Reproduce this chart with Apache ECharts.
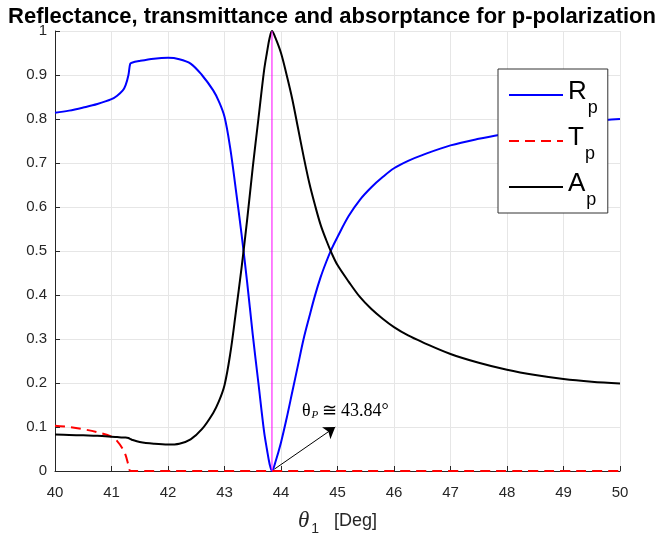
<!DOCTYPE html>
<html>
<head>
<meta charset="utf-8">
<script src="https://cdn.jsdelivr.net/npm/echarts@6/dist/echarts.min.js"></script>
<style>
  html, body { margin: 0; padding: 0; background: #fff; }
  #chart { width: 664px; height: 535px; }
</style>
</head>
<body>
<div id="chart"></div>
<script>
// incidence angle (deg)
const theta = [40, 40.25, 40.5, 40.75, 41, 41.1, 41.2, 41.25, 41.3, 41.33, 41.36, 41.5, 41.75, 42,
  42.2, 42.4, 42.6, 42.8, 42.9, 43, 43.1, 43.2, 43.3, 43.4, 43.5, 43.6, 43.7, 43.75, 43.8, 43.84,
  43.9, 44, 44.1, 44.2, 44.3, 44.4, 44.5, 44.6, 44.7, 44.8, 44.9, 45, 45.2, 45.4, 45.6, 45.8, 46,
  46.25, 46.5, 47, 47.5, 48, 48.5, 49, 49.5, 50];
// reflectance
const Rp = [0.814, 0.819, 0.826, 0.834, 0.845, 0.853, 0.865, 0.877, 0.900, 0.925, 0.928, 0.932, 0.937, 0.939,
  0.936, 0.926, 0.900, 0.865, 0.840, 0.805, 0.735, 0.640, 0.540, 0.430, 0.310, 0.200, 0.090, 0.050, 0.015, 0,
  0.020, 0.065, 0.120, 0.180, 0.240, 0.300, 0.350, 0.398, 0.440, 0.475, 0.506, 0.532, 0.580, 0.617, 0.645, 0.668, 0.688,
  0.705, 0.718, 0.740, 0.755, 0.767, 0.778, 0.788, 0.795, 0.800];
// transmittance
const Tp = [0.103, 0.100, 0.095, 0.088, 0.078, 0.068, 0.050, 0.036, 0.013, 0, 0, 0, 0, 0,
  0, 0, 0, 0, 0, 0, 0, 0, 0, 0, 0, 0, 0, 0, 0, 0,
  0, 0, 0, 0, 0, 0, 0, 0, 0, 0, 0, 0, 0, 0, 0, 0, 0,
  0, 0, 0, 0, 0, 0, 0, 0, 0];
// absorptance
const Ap = [0.083, 0.082, 0.081, 0.080, 0.078, 0.077, 0.076, 0.076, 0.075, 0.073, 0.071, 0.066, 0.062, 0.060,
  0.062, 0.072, 0.095, 0.132, 0.158, 0.195, 0.265, 0.360, 0.460, 0.570, 0.690, 0.800, 0.910, 0.950, 0.985, 1.000,
  0.985, 0.950, 0.900, 0.845, 0.780, 0.715, 0.655, 0.605, 0.560, 0.525, 0.494, 0.468, 0.430, 0.395, 0.368, 0.346, 0.327,
  0.308, 0.293, 0.266, 0.246, 0.230, 0.218, 0.209, 0.203, 0.199];

const seriesNames = ['Rp', 'Tp', 'Ap'];
const brewster = 43.84;
const arrowStart = [43.88, 0.004];
const arrowEnd = [44.96, 0.1];
const labelAt = [44.37, 0.135];

const sans = 'Liberation Sans, Arial, sans-serif';
const serif = 'Liberation Serif, Times New Roman, serif';
const axisColor = '#262626';

function pairs(ys) {
  return theta.map((t, i) => [t, ys[i]]);
}

const chart = echarts.init(document.getElementById('chart'));
chart.setOption({
  animation: false,
  backgroundColor: '#fff',
  title: {
    text: 'Reflectance, transmittance and absorptance for p-polarization',
    left: 'center',
    top: 1,
    textStyle: { fontFamily: sans, fontSize: 22, fontWeight: 'bold', color: '#000' }
  },
  grid: { left: 55, right: 44, top: 31, bottom: 64, outerBoundsMode: 'none' },
  legend: {
    data: seriesNames,
    orient: 'vertical',
    left: 498,
    top: 69,
    padding: [4, 10, 4, 10],
    itemGap: 2,
    itemWidth: 54,
    itemHeight: 14,
    backgroundColor: '#fff',
    borderColor: '#333',
    borderWidth: 1,
    selectedMode: false,
    itemStyle: { opacity: 0 },
    formatter: name => '{b|' + name[0] + '}{s|' + name.slice(1) + '}',
    textStyle: {
      color: '#000',
      rich: {
        b: { fontFamily: sans, fontSize: 26, lineHeight: 30, padding: [0, 0, 6, 0], color: '#000' },
        s: { fontFamily: sans, fontSize: 18, lineHeight: 18, padding: [26, 0, 0, 1], color: '#000' }
      }
    }
  },
  xAxis: {
    type: 'value',
    min: 40,
    max: 50,
    interval: 1,
    name: '{i|θ}{sub|1}   [Deg]',
    nameLocation: 'middle',
    nameGap: 35,
    nameTextStyle: {
      color: axisColor,
      rich: {
        i: { fontFamily: serif, fontStyle: 'italic', fontSize: 23, color: axisColor },
        sub: { fontFamily: sans, fontSize: 14, color: axisColor, padding: [16, 0, 0, 2] },
      },
      fontFamily: sans,
      fontSize: 18
    },
    axisLine: { lineStyle: { color: axisColor, width: 1 } },
    axisTick: { inside: true, length: 5, lineStyle: { color: axisColor } },
    axisLabel: { color: axisColor, fontFamily: sans, fontSize: 15, margin: 14 },
    splitLine: { show: true, lineStyle: { color: '#e6e6e6', width: 1 } }
  },
  yAxis: {
    type: 'value',
    min: 0,
    max: 1,
    interval: 0.1,
    axisLine: { show: true, lineStyle: { color: axisColor, width: 1 } },
    axisTick: { show: true, inside: true, length: 5, lineStyle: { color: axisColor } },
    axisLabel: { color: axisColor, fontFamily: sans, fontSize: 15, margin: 8 },
    splitLine: { show: true, lineStyle: { color: '#e6e6e6', width: 1 } }
  },
  series: [
    {
      name: 'Rp', type: 'line', data: pairs(Rp), showSymbol: false, symbol: 'none',
      smooth: 0.35,
      lineStyle: { color: '#0000ff', width: 2 }, itemStyle: { color: '#0000ff' }
    },
    {
      name: 'Tp', type: 'line', data: pairs(Tp), showSymbol: false, symbol: 'none',
      smooth: 0.35,
      lineStyle: { color: '#ff0000', width: 2, type: [10, 6] }, itemStyle: { color: '#ff0000' }
    },
    {
      name: 'Ap', type: 'line', data: pairs(Ap), showSymbol: false, symbol: 'none',
      smooth: 0.35,
      lineStyle: { color: '#000', width: 2 }, itemStyle: { color: '#000' }
    },
    {
      name: 'brewster', type: 'line', data: [[brewster, 0], [brewster, 1]],
      showSymbol: false, symbol: 'none', silent: true,
      lineStyle: { color: '#ff00ff', width: 1 },
      markLine: {
        silent: true,
        symbol: ['none', 'arrow'],
        symbolSize: 11,
        lineStyle: { color: '#000', width: 1, type: 'solid' },
        itemStyle: { color: '#000' },
        label: { show: false },
        data: [[{ coord: arrowStart }, { coord: arrowEnd }]]
      },
      markPoint: {
        silent: true,
        symbol: 'circle',
        symbolSize: 0,
        label: {
          show: true,
          position: 'right',
          distance: 0,
          formatter: '{t|θ}{p|P} {t|≅ 43.84°}',
          rich: {
            t: { fontFamily: serif, fontSize: 18, color: '#000' },
            p: { fontFamily: serif, fontSize: 11, fontStyle: 'italic', color: '#000', padding: [8, 0, 0, 1] }
          }
        },
        data: [{ coord: labelAt }]
      }
    }
  ]
});
</script>
</body>
</html>
